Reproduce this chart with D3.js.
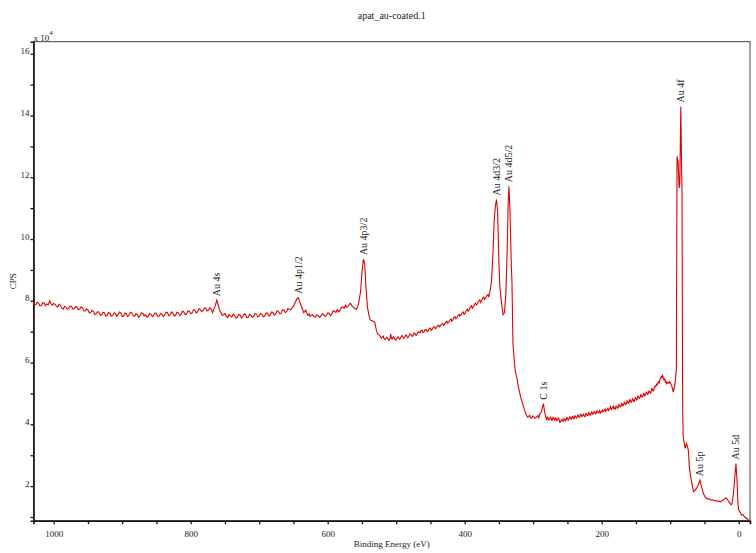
<!DOCTYPE html>
<html>
<head>
<meta charset="utf-8">
<script src="https://cdn.jsdelivr.net/npm/d3@7"></script>
<style>
    body { margin: 0; background: #fff; }
    svg text { font-family: "Liberation Serif", "Times New Roman", serif; fill: #222; }
</style>
</head>
<body>
<div id="chart"></div>
<script>
// survey spectrum, [binding energy (eV), counts per second]
const spectrum = [
    [1030, 79400], [1028, 78600], [1026, 78800], [1024, 79500], [1022, 79200], [1020, 78300],
    [1018, 78500], [1016, 79400], [1014, 79300], [1012, 78400], [1010, 79000], [1008, 78700],
    [1006, 79900], [1004, 79100], [1002, 78600], [1000, 79200], [998, 78800], [996, 78200],
    [994, 78000], [992, 78900], [990, 78400], [988, 77600], [986, 77300], [984, 78200],
    [982, 77900], [980, 77200], [978, 77600], [976, 78300], [974, 78200], [972, 77300],
    [970, 77500], [968, 78100], [966, 78000], [964, 77100], [962, 77300], [960, 78000],
    [958, 77800], [956, 76800], [954, 76700], [952, 77400], [950, 77000], [948, 76100],
    [946, 76200], [944, 76900], [942, 76600], [940, 75600], [938, 75800], [936, 76500],
    [934, 76300], [932, 75300], [930, 75500], [928, 76300], [926, 76100], [924, 75000],
    [922, 75300], [920, 76200], [918, 76000], [916, 75000], [914, 75200], [912, 76100],
    [910, 75900], [908, 75000], [906, 75500], [904, 76400], [902, 76200], [900, 74900],
    [898, 75000], [896, 76000], [894, 75800], [892, 74900], [890, 75400], [888, 76300],
    [886, 76100], [884, 75200], [882, 74900], [880, 75800], [878, 75600], [876, 74700],
    [874, 75200], [872, 76100], [870, 76000], [868, 75100], [866, 75500], [864, 74700],
    [862, 75000], [860, 75900], [858, 75700], [856, 74900], [854, 75300], [852, 76100],
    [850, 75900], [848, 74900], [846, 75100], [844, 75900], [842, 75600], [840, 74900],
    [838, 75400], [836, 76300], [834, 76200], [832, 75200], [830, 75500], [828, 76400],
    [826, 76000], [824, 75100], [822, 75300], [820, 76300], [818, 76100], [816, 75300],
    [814, 75700], [812, 76600], [810, 76400], [808, 75500], [806, 75800], [804, 76700],
    [802, 76600], [800, 75800], [798, 76100], [796, 77100], [794, 77000], [792, 76100],
    [790, 76400], [788, 77400], [786, 77200], [784, 76500], [782, 76800], [780, 77700],
    [778, 77500], [776, 76700], [774, 77000], [772, 77800], [770, 77300],
    [768, 76200], [766, 77400], [764, 78500], [762, 80200], [760, 78800], [758, 77000],
    [756, 76200], [754, 75300], [752, 75500], [750, 75900], [748, 75000], [746, 74600],
    [744, 75600], [742, 75100], [740, 74800], [738, 75700], [736, 75300], [734, 74400],
    [732, 74600], [730, 75600], [728, 75400], [726, 74500], [724, 74900], [722, 75800],
    [720, 75500], [718, 74500], [716, 74700], [714, 75600], [712, 75300], [710, 74600],
    [708, 75000], [706, 75900], [704, 75700], [702, 74800], [700, 75100], [698, 75900],
    [696, 75600], [694, 74800], [692, 75000], [690, 76100], [688, 76000], [686, 75100],
    [684, 75400], [682, 76400], [680, 76200], [678, 75400], [676, 75700], [674, 76800],
    [672, 76600], [670, 75800], [668, 76000], [666, 77100], [664, 77000], [662, 76200],
    [660, 76500], [658, 77500], [656, 77200], [654, 77100], [652, 77800], [650, 78200],
    [648, 79200], [645, 80600], [643, 81000], [641, 79800], [638, 78000], [635, 76200],
    [632, 77000], [630, 75800], [629, 75300], [627, 75800], [626, 74900], [624, 75300],
    [622, 75500], [620, 74800], [618, 74700], [616, 75500], [614, 75200], [612, 74600],
    [610, 75000], [608, 75800], [606, 75600], [604, 74900], [602, 75200], [600, 76100],
    [598, 76000], [596, 75200], [594, 75700], [592, 76800], [590, 76600], [588, 76200],
    [586, 77200], [584, 76400], [582, 76800], [580, 77900], [578, 78000], [576, 77600],
    [574, 78600], [572, 77900], [570, 78400], [567, 79200], [564, 78200], [561, 77600], [558, 77200],
    [555, 79000], [552, 83000], [550, 89000], [548, 93500], [546, 92000], [544, 84000],
    [542, 78000], [540, 75500], [538, 73800], [536, 73600], [533, 73300], [531, 72800],
    [529, 70500], [527, 69200], [524, 68800], [522, 67900], [521, 68200], [519, 68600],
    [518, 67800], [516, 67400], [514, 68200], [513, 68000], [511, 67300], [510, 67200],
    [509, 67900], [508, 69300], [507, 67800], [506, 67600], [504, 68400], [503, 68000],
    [501, 67300], [500, 67400], [498, 68200], [497, 68300], [495, 67600], [494, 67800],
    [492, 68700], [491, 68600], [489, 67900], [488, 68000], [486, 68900], [485, 68800],
    [483, 68100], [482, 68300], [480, 69300], [479, 69200], [477, 68500], [476, 68600],
    [474, 69600], [473, 69500], [471, 68800], [470, 69000], [468, 70000], [467, 69900],
    [465, 69600], [464, 70300], [462, 70500], [461, 69700], [459, 70000], [458, 70600],
    [456, 70700], [455, 70100], [453, 70300], [452, 71000], [450, 71200], [449, 70500],
    [447, 70900], [446, 71400], [444, 71600], [443, 71000], [441, 71300], [440, 71900],
    [438, 72100], [437, 71600], [435, 72000], [434, 72400], [432, 72700], [431, 72000],
    [429, 72500], [428, 73000], [426, 73400], [425, 72800], [423, 73200], [422, 73700],
    [420, 74100], [419, 73400], [417, 73900], [416, 74600], [414, 74900], [413, 74200],
    [411, 74700], [410, 75200], [408, 75600], [407, 75000], [405, 75500], [404, 76000],
    [402, 76400], [401, 75600], [399, 76100], [398, 76800], [396, 77300], [395, 76600],
    [393, 77200], [392, 78000], [390, 78400], [389, 77600], [387, 78200], [386, 78800],
    [384, 79300], [383, 78600], [381, 79200], [380, 79800], [378, 80300], [377, 79500],
    [375, 80200], [374, 80800], [372, 81200], [371, 80400], [369, 81000], [368, 81600],
    [366, 82000], [365, 81200], [363, 83200], [361, 86000], [359, 94000],
    [357, 106000], [355, 111000], [353.5, 112800], [352, 109000], [350, 92000], [348.5, 84000],
    [346, 79000], [344, 75500], [342, 76200], [340, 82000], [338, 96000], [336.5, 112000],
    [335.5, 117100], [334, 110000], [332, 92000], [331, 86000], [329.5, 66000], [328, 61700],
    [326.5, 58000], [325, 56000], [324, 55300], [322, 52500], [320, 50500], [318, 48500],
    [316, 47200], [314, 45500], [312, 44200], [310, 43000], [308, 42300], [307, 42600],
    [305, 42900], [304, 42200], [302, 42000], [301, 42700], [299, 42500], [298, 42000],
    [296, 42100], [295, 42400], [293, 42800], [292, 42200], [290, 43500], [288, 44000],
    [286.5, 45500], [285, 46700], [284, 45000], [282, 42600], [280, 41500], [279, 42300],
    [278, 42000], [277, 41400], [276, 41600], [275, 42400], [274, 42200], [273, 41300],
    [272, 41400], [271, 42300], [270, 42100], [269, 41400], [268, 41800], [267, 42100],
    [266, 41200], [265, 41300], [264, 41900], [263, 42100], [262, 41500], [261, 40600],
    [260, 40800], [259, 41400], [258, 41600], [257, 41100], [256, 41000], [255, 41900],
    [254, 41800], [253, 41100], [252, 41400], [251, 42200], [250, 42000], [249, 41300],
    [248, 41500], [247, 42400], [246, 42300], [245, 41700], [244, 41800], [243, 42600],
    [242, 42500], [241, 41800], [240, 41900], [239, 42800], [238, 42600], [237, 42000],
    [236, 42200], [235, 43000], [234, 42800], [233, 42300], [232, 42400], [231, 43300],
    [230, 43100], [229, 42500], [228, 42700], [227, 43300], [226, 43000], [225, 42500],
    [224, 42600], [223, 43500], [222, 43300], [221, 42800], [220, 42900], [219, 43800],
    [218, 43600], [217, 43000], [216, 43200], [215, 44000], [214, 43800], [213, 43300],
    [212, 43400], [211, 44200], [210, 44000], [209, 43400], [208, 43600], [207, 44400],
    [206, 44200], [205, 43700], [204, 43800], [203, 44400], [202, 43600], [201, 43900],
    [200, 44300], [199, 44600], [198, 44000], [197, 44200], [196, 44600], [195, 45000],
    [194, 44200], [193, 44500], [192, 44800], [191, 45200], [190, 44500], [189, 44900],
    [188, 45200], [187, 45700], [186, 44800], [185, 45100], [184, 45500], [183, 45900],
    [182, 45000], [181, 45300], [180, 45000], [179, 45900], [178, 45800], [177, 45200],
    [176, 45400], [175, 46400], [174, 46200], [173, 45600], [172, 45800], [171, 46800],
    [170, 46600], [169, 46000], [168, 46200], [167, 47200], [166, 47000], [165, 46400],
    [164, 46600], [163, 47600], [162, 47400], [161, 46800], [160, 47000], [159, 48000],
    [158, 47800], [157, 47100], [156, 47400], [155, 48300], [154, 48000], [153, 47400],
    [152, 47600], [151, 48700], [150, 48500], [149, 47900], [148, 48200], [147, 49200],
    [146, 49000], [145, 48400], [144, 48600], [143, 49600], [142, 49400], [141, 48800],
    [140, 49000], [139, 50000], [138, 49800], [137, 49200], [136, 49500], [135, 50400],
    [134, 50200], [133, 49700], [132, 50000], [131, 50800], [130, 50600], [129, 50100],
    [128, 50400], [127, 51600], [126, 51400], [125, 50800], [124, 51000], [123, 52100],
    [122, 52400], [121, 52200], [120, 53000], [119, 52800], [117, 53800], [116, 53400],
    [115, 54600], [114, 54700], [113, 55500], [112, 55200], [111, 55800], [110, 55000],
    [109, 54400], [108, 54700], [107, 53600], [106, 53900], [105, 53100], [104, 53400],
    [103, 53600], [102, 53300], [101, 53800], [100, 53500], [99, 53000], [98, 52600],
    [97, 51800], [95.5, 50400], [93, 53000], [91, 58000], [90, 126800], [88.5, 125000],
    [87, 116500], [86, 118000], [84.5, 142900], [83.5, 125000], [82.8, 116500], [81.8, 45000],
    [81, 35900], [79, 33000], [78, 32200], [76.5, 33800], [75, 33000], [73.5, 31600],
    [72, 26000], [70, 23000], [68, 20500], [66, 18200], [64, 18600], [62, 19200],
    [60, 19800], [58, 21000], [56.5, 21900], [55, 20500], [53, 18800], [51.5, 17600],
    [49, 16500], [47, 16000], [45, 15800], [43, 15900], [41, 15500], [39, 15600],
    [37, 15500], [35, 15200], [33, 15400], [31, 15000], [29, 15200], [27, 14900],
    [25, 15200], [23, 15400], [21, 15800], [19, 16200], [17.5, 16000], [15, 15200],
    [13, 14500], [11, 14000], [10, 14200], [8, 17000], [6, 22000], [4, 27300],
    [2.5, 22000], [1, 14000], [0, 12300], [-2, 11500], [-4, 10600], [-6, 10800],
    [-9, 9900], [-12, 9500], [-14, 9000], [-16.5, 8800]
];

// peak annotations
const peakNames = ["Au 4s", "Au 4p1/2", "Au 4p3/2", "Au 4d3/2", "Au 4d5/2", "C 1s", "Au 4f", "Au 5p", "Au 5d"];
const peakEnergies = [762, 643, 548, 353.5, 335.5, 285, 84.5, 56.5, 4];

const xTicks = d3.range(1000, -1, -50);
const xLabels = [1000, 800, 600, 400, 200, 0];
const yTicks = d3.range(10000, 160001, 10000);
const yLabels = d3.range(20000, 160001, 20000);

const width = 756, height = 553;
const margin = {top: 41.7, right: 6, bottom: 32.3, left: 33.5};

const svg = d3.select("#chart").append("svg")
    .attr("width", width)
    .attr("height", height);

const x = d3.scaleLinear()
    .domain([1029.5, -16.5])
    .range([margin.left, width - margin.right]);

const y = d3.scaleLinear()
    .domain([8800, 163900])
    .range([height - margin.bottom, margin.top]);

// frame
svg.append("rect")
    .attr("x", margin.left)
    .attr("y", margin.top)
    .attr("width", width - margin.right - margin.left)
    .attr("height", height - margin.bottom - margin.top)
    .attr("fill", "none")
    .attr("stroke", "#444")
    .attr("stroke-width", 1);

// axes
const xAxis = svg.append("g")
    .attr("transform", "translate(0," + (height - margin.bottom) + ")")
    .call(d3.axisBottom(x).tickValues(xTicks).tickSize(3.5).tickPadding(6)
        .tickFormat(d => xLabels.includes(d) ? d : ""));

const yAxis = svg.append("g")
    .attr("transform", "translate(" + margin.left + ",0)")
    .call(d3.axisLeft(y).tickValues(yTicks).tickSize(3).tickPadding(1)
        .tickFormat(d => yLabels.includes(d) ? d / 10000 : ""));

[xAxis, yAxis].forEach(g => {
    g.select(".domain").attr("stroke", "#111").attr("stroke-width", 1.6);
    g.selectAll(".tick line").attr("stroke", "#111").attr("stroke-width", 1.3);
    g.selectAll("text")
        .style("font-family", "Liberation Serif, serif")
        .style("font-size", "9px")
        .attr("fill", "#222");
});
yAxis.selectAll("text").attr("dy", "0");

// spectrum
const line = d3.line()
    .x(d => x(d[0]))
    .y(d => y(d[1]));

svg.append("path")
    .datum(spectrum)
    .attr("d", line)
    .attr("fill", "none")
    .attr("stroke", "#dd0000")
    .attr("stroke-width", 1.1);

// peak labels
peakNames.forEach((name, i) => {
    let be = peakEnergies[i];
    let top = d3.max(spectrum.filter(d => Math.abs(d[0] - be) <= 1.5), d => d[1]);
    let px = x(be), py = y(top) - 4;
    svg.append("text")
        .attr("transform", "translate(" + px + "," + py + ") rotate(-90)")
        .attr("dy", "0.35em")
        .style("font-size", "10px")
        .text(name);
});

// titles
svg.append("text")
    .attr("x", (margin.left + width - margin.right) / 2)
    .attr("y", 19)
    .attr("text-anchor", "middle")
    .style("font-size", "10px")
    .text("apat_au-coated.1");

svg.append("text")
    .attr("x", (margin.left + width - margin.right) / 2)
    .attr("y", 547)
    .attr("text-anchor", "middle")
    .style("font-size", "9px")
    .text("Binding Energy (eV)");

svg.append("text")
    .attr("transform", "translate(16," + ((margin.top + height - margin.bottom) / 2) + ") rotate(-90)")
    .attr("text-anchor", "middle")
    .style("font-size", "9px")
    .text("CPS");

const expo = svg.append("text")
    .attr("x", margin.left)
    .attr("y", 40.5)
    .style("font-size", "9px");
expo.append("tspan").text("x 10");
expo.append("tspan").attr("dy", -6).style("font-size", "7px").text("4");
</script>
</body>
</html>
